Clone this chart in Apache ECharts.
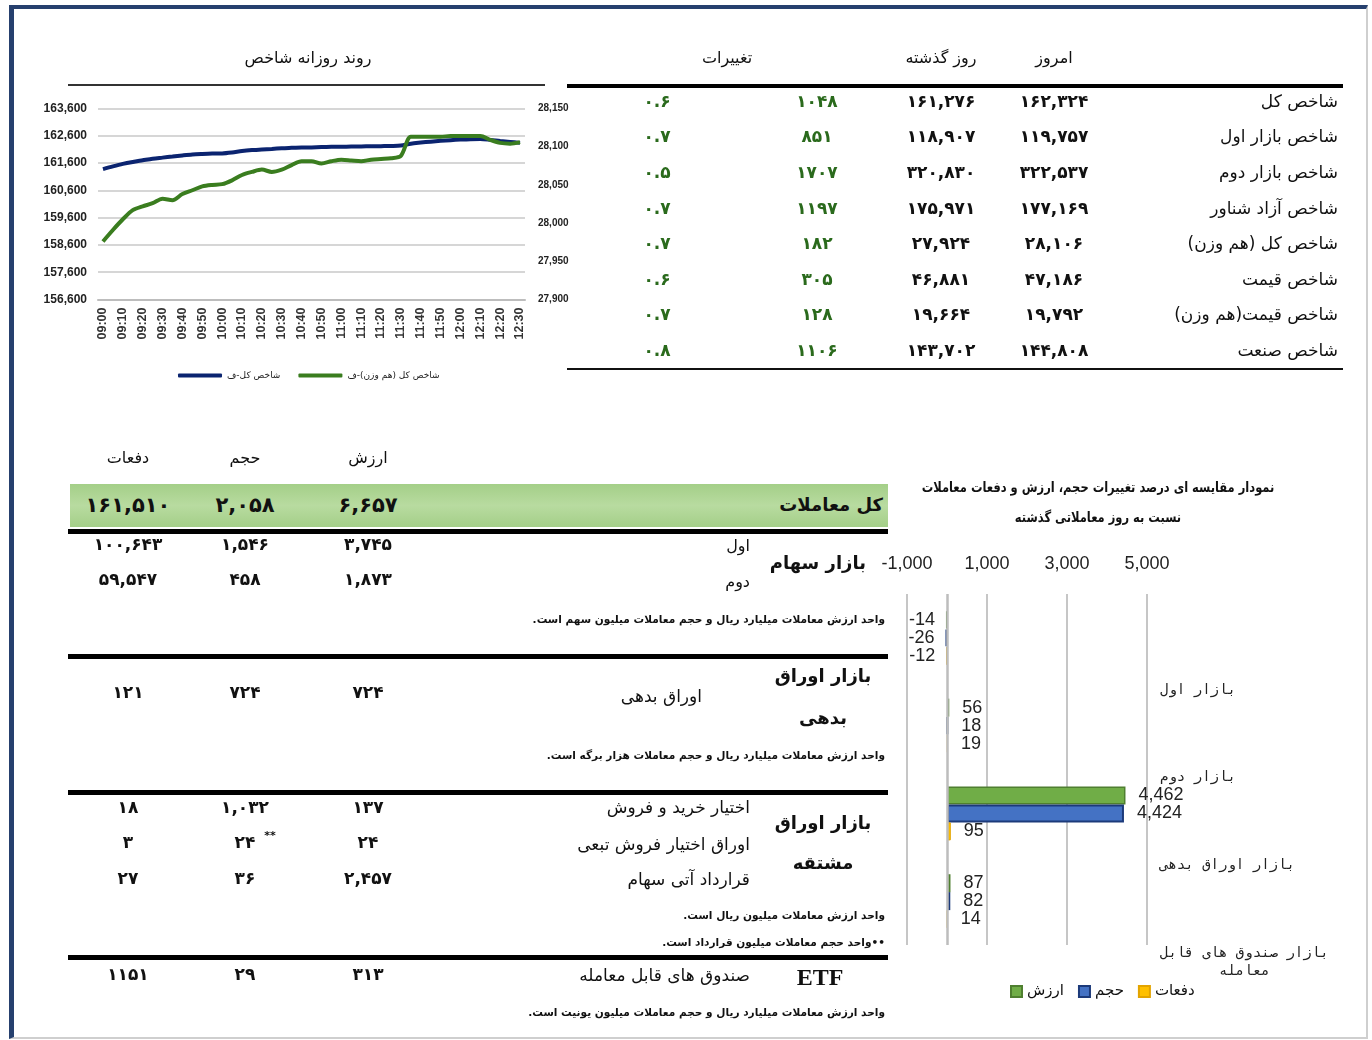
<!DOCTYPE html>
<html><head><meta charset="utf-8">
<script src="https://cdn.jsdelivr.net/npm/echarts@6/dist/echarts.min.js"></script>
<style>
html,body{margin:0;padding:0;background:#fff;}
#wrap{position:relative;width:1372px;height:1040px;overflow:hidden;font-family:"DejaVu Sans",sans-serif;background:#fff;}
#frame{position:absolute;left:9px;top:5px;width:1352px;height:1028px;border-top:4px solid #26406e;border-left:5px solid #26406e;border-right:2px solid #cfcfcf;border-bottom:2px solid #cfcfcf;}
#chart{position:absolute;left:0;top:0;width:1372px;height:1040px;direction:ltr;}
.t{position:absolute;white-space:nowrap;color:#111;line-height:1.25;}
.ln{position:absolute;background:#000;}
</style></head><body>
<div id="wrap"><div id="frame"></div><div id="chart"></div></div>
<script>
// ---------- line chart data ----------
const timeLabels = ['09:00','09:05','09:10','09:15','09:20','09:25','09:30','09:35','09:40','09:45','09:50','09:55','10:00','10:05','10:10','10:15','10:20','10:25','10:30','10:35','10:40','10:45','10:50','10:55','11:00','11:05','11:10','11:15','11:20','11:25','11:30','11:35','11:40','11:45','11:50','11:55','12:00','12:05','12:10','12:15','12:20','12:25','12:30'];
const indexTotal = [161380,161480,161570,161640,161700,161760,161800,161840,161880,161915,161935,161950,161955,161990,162040,162075,162100,162120,162140,162160,162170,162175,162185,162195,162200,162205,162210,162215,162220,162225,162240,162310,162350,162385,162415,162440,162460,162475,162480,162450,162410,162375,162340];
const indexEqual = [27976,27991,28005,28017,28022,28026,28032,28030,28038,28043,28048,28050,28051,28056,28063,28067,28070,28067,28070,28076,28081,28081,28078,28081,28083,28082,28081,28083,28084,28085,28088,28113,28113,28113,28113,28114,28114,28114,28114,28109,28105,28104,28106];
const lineNames = ['شاخص کل-ف','شاخص کل (هم وزن)-ف'];

// ---------- bar chart data ----------
const barCats = ['بازار اول','بازار دوم','بازار اوراق بدهی','بازار صندوق های قابل\nمعامله'];
const barNames = ['ارزش','حجم','دفعات'];
const barValue = [-14, 56, 4462, 87];
const barVolume = [-26, 18, 4424, 82];
const barCount = [-12, 19, 95, 14];
const barTicks = [-1000, 1000, 3000, 5000];

// ---------- top table ----------
const idxLabels = ['شاخص کل','شاخص بازار اول','شاخص بازار دوم','شاخص آزاد شناور','شاخص کل (هم وزن)','شاخص قیمت','شاخص قیمت(هم وزن)','شاخص صنعت'];
const idxToday = ['۱۶۲,۳۲۴','۱۱۹,۷۵۷','۳۲۲,۵۳۷','۱۷۷,۱۶۹','۲۸,۱۰۶','۴۷,۱۸۶','۱۹,۷۹۲','۱۴۴,۸۰۸'];
const idxYesterday = ['۱۶۱,۲۷۶','۱۱۸,۹۰۷','۳۲۰,۸۳۰','۱۷۵,۹۷۱','۲۷,۹۲۴','۴۶,۸۸۱','۱۹,۶۶۴','۱۴۳,۷۰۲'];
const idxChange = ['۱۰۴۸','۸۵۱','۱۷۰۷','۱۱۹۷','۱۸۲','۳۰۵','۱۲۸','۱۱۰۶'];
const idxPercent = ['۰.۶','۰.۷','۰.۵','۰.۷','۰.۷','۰.۶','۰.۷','۰.۸'];

// ---------- bottom table ----------
const tradeHeaders = ['ارزش','حجم','دفعات'];
const tradeTotal = ['۶,۶۵۷','۲,۰۵۸','۱۶۱,۵۱۰'];
const stockRows = [['۳,۷۴۵','۱,۵۴۶','۱۰۰,۶۴۳'],['۱,۸۷۳','۴۵۸','۵۹,۵۴۷']];
const debtRow = ['۷۲۴','۷۲۴','۱۲۱'];
const derivRows = [['۱۳۷','۱,۰۳۲','۱۸'],['۲۴','۲۴','۳'],['۲,۴۵۷','۳۶','۲۷']];
const etfRow = ['۳۱۳','۲۹','۱۱۵۱'];

const wrap = document.getElementById('wrap');
function T(x, y, s, o) {
  o = o || {};
  const d = document.createElement('div');
  d.className = 't';
  d.textContent = s;
  d.style.fontSize = (o.fs || 16) + 'px';
  if (o.b) d.style.fontWeight = 'bold';
  if (o.c) d.style.color = o.c;
  if (o.ff) d.style.fontFamily = o.ff;
  d.style.direction = o.dir || 'rtl';
  d.style.left = x + 'px';
  d.style.top = y + 'px';
  const a = o.a || 'center';
  let tr = a === 'center' ? 'translate(-50%,-50%)' : (a === 'right' ? 'translate(-100%,-50%)' : 'translate(0,-50%)');
  if (o.sx) tr += ' scaleX(' + o.sx + ')';
  d.style.transform = tr;
  d.style.transformOrigin = a === 'right' ? '100% 50%' : (a === 'left' ? '0 50%' : '50% 50%');
  wrap.appendChild(d);
  return d;
}
function L(x1, x2, y, h, c) {
  const d = document.createElement('div');
  d.className = 'ln';
  d.style.left = x1 + 'px'; d.style.width = (x2 - x1) + 'px';
  d.style.top = (y - h / 2) + 'px'; d.style.height = h + 'px';
  if (c) d.style.background = c;
  wrap.appendChild(d);
}
function B(x1, x2, y1, y2, bg) {
  const d = document.createElement('div');
  d.style.position = 'absolute';
  d.style.left = x1 + 'px'; d.style.width = (x2 - x1) + 'px';
  d.style.top = y1 + 'px'; d.style.height = (y2 - y1) + 'px';
  d.style.background = bg;
  wrap.appendChild(d);
}

// line chart header
T(308, 58, 'روند روزانه شاخص', {fs: 16});
L(68, 545, 85, 2, '#333');

// top table
T(727, 58, 'تغییرات', {fs: 16});
T(941, 58, 'روز گذشته', {fs: 16});
T(1054, 58, 'امروز', {fs: 16});
L(567, 1343, 86, 4, '#000');
L(567, 1343, 369, 2.5, '#111');
const rowY = [102, 137, 173, 209, 244, 280, 315, 351];
idxLabels.forEach((s, i) => {
  T(1338, rowY[i], s, {fs: 17, a: 'right'});
  T(1054, rowY[i], idxToday[i], {fs: 17, b: true, dir: 'ltr'});
  T(941, rowY[i], idxYesterday[i], {fs: 17, b: true, dir: 'ltr'});
  T(817, rowY[i], idxChange[i], {fs: 17, b: true, dir: 'ltr', c: '#2a6a1c'});
  T(657, rowY[i], idxPercent[i], {fs: 17, b: true, dir: 'ltr', c: '#2a6a1c'});
});

// bottom table
const colX = [368, 245, 128];
tradeHeaders.forEach((s, i) => T(colX[i], 458, s, {fs: 16}));
B(70, 888, 484, 527, 'linear-gradient(#a4cf88,#b8dba0 50%,#a4cf88)');
T(883, 505, 'کل معاملات', {fs: 18, b: true, a: 'right'});
tradeTotal.forEach((s, i) => T(colX[i], 505, s, {fs: 21, b: true, dir: 'ltr'}));
L(68, 888, 531, 5, '#000');
L(68, 888, 656, 5, '#000');
L(68, 888, 792, 5, '#000');
L(68, 888, 957, 5, '#000');

T(866, 563, 'بازار سهام', {fs: 18, b: true, a: 'right'});
T(750, 546, 'اول', {fs: 16, a: 'right'});
T(750, 582, 'دوم', {fs: 16, a: 'right'});
stockRows.forEach((r, j) => r.forEach((s, i) => T(colX[i], j === 0 ? 545 : 580, s, {fs: 17, b: true, dir: 'ltr'})));
T(885, 620, 'واحد ارزش معاملات میلیارد ریال و حجم معاملات میلیون سهم است.', {fs: 11, b: true, a: 'right', sx: 0.96});

T(823, 676, 'بازار اوراق', {fs: 18, b: true});
T(823, 718, 'بدهی', {fs: 18, b: true});
T(702, 697, 'اوراق بدهی', {fs: 17, a: 'right'});
debtRow.forEach((s, i) => T(colX[i], 693, s, {fs: 17, b: true, dir: 'ltr'}));
T(885, 756, 'واحد ارزش معاملات میلیارد ریال و حجم معاملات هزار برگه است.', {fs: 11, b: true, a: 'right', sx: 0.96});

T(823, 823, 'بازار اوراق', {fs: 18, b: true});
T(823, 863, 'مشتقه', {fs: 18, b: true});
T(750, 808, 'اختیار خرید و فروش', {fs: 17, a: 'right'});
T(750, 845, 'اوراق اختیار فروش تبعی', {fs: 17, a: 'right'});
T(750, 880, 'قرارداد آتی سهام', {fs: 17, a: 'right'});
const derivY = [808, 843, 879];
derivRows.forEach((r, j) => r.forEach((s, i) => T(colX[i], derivY[j], s, {fs: 17, b: true, dir: 'ltr'})));
T(270, 836, '**', {fs: 11, b: true, dir: 'ltr'});
T(885, 916, 'واحد ارزش معاملات میلیون ریال است.', {fs: 11, b: true, a: 'right', sx: 0.96});
T(885, 943, '••واحد حجم معاملات میلیون قرارداد است.', {fs: 11, b: true, a: 'right', sx: 0.96});

T(820, 977, 'ETF', {fs: 24, b: true, ff: '"Liberation Serif",serif', dir: 'ltr'});
T(750, 976, 'صندوق های قابل معامله', {fs: 17, a: 'right'});
etfRow.forEach((s, i) => T(colX[i], 975, s, {fs: 17, b: true, dir: 'ltr'}));
T(885, 1013, 'واحد ارزش معاملات میلیارد ریال و حجم معاملات میلیون یونیت است.', {fs: 11, b: true, a: 'right', sx: 0.96});

// bar chart title
T(1098, 488, 'نمودار مقایسه ای درصد تغییرات حجم، ارزش و دفعات معاملات', {fs: 14, b: true, sx: 0.82});
T(1098, 518, 'نسبت به روز معاملاتی گذشته', {fs: 14, b: true, sx: 0.82});

// ---------- chart ----------
const chart = echarts.init(document.getElementById('chart'), null, {renderer: 'canvas'});
const fmt = v => Number(v).toLocaleString('en-US');
function barData(arr) {
  return arr.map(v => ({value: v, label: v < 0
    ? {position: [-37, '50%'], align: 'left', verticalAlign: 'middle'}
    : {position: 'right'}}));
}
const barLabel = {show: true, fontSize: 18, color: '#222', distance: 13, fontFamily: 'Liberation Sans',
  formatter: p => fmt(p.value)};
const catFont = {fontFamily: 'DejaVu Sans Mono', fontSize: 14, color: '#222', lineHeight: 18};
const option = {
  animation: false,
  textStyle: {fontFamily: 'Liberation Sans'},
  grid: [
    {left: 98, top: 108.5, width: 427, height: 191},
    {left: 907, top: 594, width: 240, height: 351}
  ],
  legend: [
    {data: lineNames, left: 173, top: 366, itemWidth: 44, itemHeight: 4, icon: 'roundRect', itemGap: 18,
     textStyle: {fontSize: 9, fontFamily: 'DejaVu Sans', color: '#222'}},
    {data: barNames, left: 1005, top: 979, itemWidth: 11, itemHeight: 11, icon: 'rect', itemGap: 14,
     textStyle: {fontSize: 15, fontFamily: 'DejaVu Sans', color: '#111'}}
  ],
  xAxis: [
    {gridIndex: 0, type: 'category', data: timeLabels, boundaryGap: true,
     axisLine: {lineStyle: {color: '#bdbdbd', width: 2}}, axisTick: {show: false},
     axisLabel: {rotate: 90, interval: 1, fontSize: 12.5, fontWeight: 'bold', color: '#333', margin: 8}},
    {gridIndex: 1, type: 'value', position: 'top', min: barTicks[0], max: barTicks[barTicks.length - 1], interval: barTicks[1] - barTicks[0],
     axisLine: {show: false}, axisTick: {show: false},
     splitLine: {lineStyle: {color: '#c6c6c6', width: 2}},
     axisLabel: {fontSize: 18, color: '#222', margin: 21, formatter: fmt}}
  ],
  yAxis: [
    {gridIndex: 0, type: 'value', min: 156600, max: 163600, interval: 1000,
     axisLine: {show: false}, axisTick: {show: false},
     splitLine: {lineStyle: {color: '#c8c8c8', width: 1.5}},
     axisLabel: {fontSize: 12, fontWeight: 'bold', color: '#222', margin: 11, formatter: fmt}},
    {gridIndex: 0, type: 'value', position: 'right', min: 27900, max: 28150, interval: 50,
     axisLine: {show: false}, axisTick: {show: false}, splitLine: {show: false},
     axisLabel: {fontSize: 10, fontWeight: 'bold', color: '#222', margin: 13, formatter: fmt}},
    {gridIndex: 1, type: 'category', data: barCats, inverse: true, position: 'right',
     axisLine: {show: false}, axisTick: {show: false},
     axisLabel: Object.assign({}, catFont, {margin: 13, align: 'left', verticalAlign: 'top', padding: [43, 0, 0, 0],
       formatter: v => {
         const p = v.split('\n');
         return p.length > 1 ? '{a|' + p[0] + '}\n{b|' + p[1] + '}' : '{a|' + v + '}';
       },
       rich: {a: Object.assign({}, catFont), b: Object.assign({}, catFont, {width: 168, align: 'center'})}})}
  ],
  series: [
    {name: lineNames[0], type: 'line', xAxisIndex: 0, yAxisIndex: 0, data: indexTotal, smooth: 0.3, symbol: 'none',
     lineStyle: {width: 4, color: '#0b2470'}, itemStyle: {color: '#0b2470'}},
    {name: lineNames[1], type: 'line', xAxisIndex: 0, yAxisIndex: 1, data: indexEqual, smooth: 0.3, symbol: 'none',
     lineStyle: {width: 4, color: '#3a7d1f'}, itemStyle: {color: '#3a7d1f'}},
    {name: barNames[0], type: 'bar', xAxisIndex: 1, yAxisIndex: 2, data: barData(barValue), barWidth: 18, barGap: '0%',
     itemStyle: {color: '#70ad47', borderColor: '#4f7f30', borderWidth: 1.5}, label: barLabel,
     markLine: {silent: true, symbol: 'none', label: {show: false}, lineStyle: {color: '#bdbdbd', width: 2.5, type: 'solid'}, data: [{xAxis: 0}]}},
    {name: barNames[1], type: 'bar', xAxisIndex: 1, yAxisIndex: 2, data: barData(barVolume), barWidth: 18, barGap: '0%',
     itemStyle: {color: '#4472c4', borderColor: '#1c3a7a', borderWidth: 2}, label: barLabel},
    {name: barNames[2], type: 'bar', xAxisIndex: 1, yAxisIndex: 2, data: barData(barCount), barWidth: 18, barGap: '0%',
     itemStyle: {color: '#ffc000', borderColor: '#e3a400', borderWidth: 1}, label: barLabel}
  ]
};
chart.setOption(option);
</script>
</body></html>
